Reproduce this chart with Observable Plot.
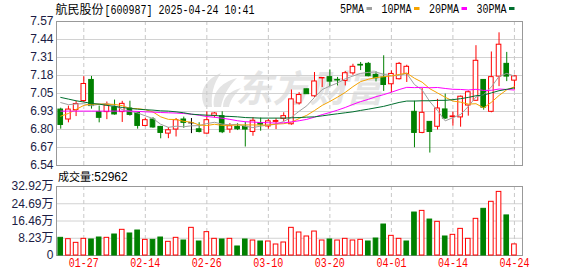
<!DOCTYPE html>
<html><head><meta charset="utf-8">
<script src="https://cdn.jsdelivr.net/npm/d3@7"></script>
<script src="https://cdn.jsdelivr.net/npm/@observablehq/plot@0.6"></script>
<style>
html,body{margin:0;padding:0;background:#fff;}
#wrap{position:relative;width:578px;height:276px;overflow:hidden;background:#fff;}
#wrap svg{position:absolute;left:0;}
</style></head><body><div id="wrap"></div>
<script>
// ---------- data ----------
const stockName = "航民股份";
const stockInfo = "[600987] 2025-04-24 10:41";
const volCaption = "成交量";
const lastVolume = 52962;
const watermark = "东方财富";

const dates = ["01-22","01-23","01-24","01-27","02-05","02-06","02-07","02-10","02-11","02-12","02-13","02-14","02-17","02-18","02-19","02-20","02-21","02-24","02-25","02-26","02-27","02-28","03-03","03-04","03-05","03-06","03-07","03-10","03-11","03-12","03-13","03-14","03-17","03-18","03-19","03-20","03-21","03-24","03-25","03-26","03-27","03-28","03-31","04-01","04-02","04-03","04-07","04-08","04-09","04-10","04-11","04-14","04-15","04-16","04-17","04-18","04-21","04-22","04-23","04-24"];

const open  = [6.94,6.869,6.936,7.001,7.152,6.922,6.922,6.956,6.922,6.948,6.917,6.823,6.869,6.816,6.768,6.797,6.869,6.845,6.799,6.768,6.895,6.893,6.797,6.817,6.817,6.78,6.843,6.819,6.852,6.874,6.835,6.984,7.085,7.035,7.163,7.172,7.152,7.145,7.199,7.26,7.267,7.188,7.169,7.121,7.157,7.195,6.924,6.773,6.852,6.817,6.941,6.886,6.884,6.969,7.003,7.152,6.924,7.176,7.267,7.147];
const high  = [6.95,6.965,6.999,7.176,7.177,6.965,6.994,7.008,6.999,7.0,6.92,6.879,6.882,6.82,6.812,6.876,6.886,6.876,6.846,6.924,6.918,6.924,6.84,6.839,6.85,6.882,6.879,6.87,6.875,6.917,7.08,7.061,7.087,7.205,7.168,7.224,7.17,7.212,7.264,7.277,7.277,7.21,7.325,7.217,7.277,7.257,7.0,7.091,6.853,7.013,7.051,6.922,7.037,7.073,7.397,7.152,7.352,7.489,7.349,7.185];
const low   = [6.80,6.845,6.89,6.99,6.943,6.845,6.868,6.90,6.848,6.893,6.80,6.817,6.806,6.731,6.732,6.744,6.806,6.768,6.773,6.765,6.88,6.768,6.77,6.79,6.672,6.749,6.785,6.80,6.797,6.853,6.828,6.972,7.048,7.026,7.098,7.104,7.109,7.109,7.185,7.219,7.174,7.138,7.07,7.062,7.152,7.134,6.667,6.767,6.629,6.794,6.869,6.821,6.814,6.893,7.0,6.936,6.917,7.104,7.14,7.08];
const close = [6.83,6.94,6.98,7.123,6.965,6.881,6.97,6.905,6.981,6.902,6.823,6.864,6.812,6.773,6.792,6.864,6.845,6.845,6.78,6.864,6.912,6.778,6.821,6.799,6.797,6.86,6.832,6.856,6.858,6.893,7.013,7.044,7.05,7.141,7.166,7.14,7.148,7.2,7.246,7.255,7.179,7.164,7.116,7.195,7.267,7.246,6.773,6.917,6.78,6.948,6.876,6.891,7.032,7.064,7.289,6.954,7.172,7.404,7.176,7.178];
// volume in 万手
const volume = [8.43,7.79,6.04,7.95,7.64,8.58,8.43,10.02,12.25,10.5,11.92,7.47,7.47,8.58,6.52,8.43,7.15,13.2,6.68,11.14,7.95,7.64,7.95,4.3,7.64,7.15,6.68,6.68,5.25,6.2,13.2,10.97,9.07,11.43,7.15,7.64,7.15,7.95,7.15,7.47,6.68,8.1,14.78,9.38,7.95,6.68,20.5,21.29,17.15,16.06,9.07,9.86,12.71,7.95,17.49,22.27,25.62,30.35,19.12,5.3];

const ma5  = [6.990,6.975,6.980,6.982,6.968,6.978,6.984,6.969,6.940,6.928,6.916,6.895,6.876,6.835,6.813,6.821,6.817,6.824,6.825,6.840,6.849,6.836,6.831,6.835,6.821,6.811,6.822,6.829,6.835,6.855,6.885,6.928,6.967,7.027,7.083,7.108,7.130,7.160,7.180,7.199,7.206,7.209,7.192,7.182,7.184,7.198,7.119,7.080,6.997,6.933,6.859,6.882,6.905,6.962,7.030,7.046,7.102,7.177,7.199,7.179];
const ma10 = [6.893,6.912,6.941,6.970,6.979,6.979,6.979,6.977,6.968,6.948,6.947,6.939,6.923,6.888,6.870,6.869,6.856,6.850,6.830,6.826,6.835,6.827,6.827,6.830,6.831,6.830,6.829,6.830,6.836,6.839,6.849,6.876,6.899,6.933,6.970,6.998,7.029,7.063,7.104,7.140,7.157,7.169,7.175,7.181,7.191,7.201,7.164,7.136,7.089,7.059,7.028,7.001,6.993,6.979,6.982,6.952,6.992,7.041,7.081,7.103];
const ma20 = [6.929,6.929,6.929,6.929,6.929,6.929,6.929,6.929,6.929,6.929,6.927,6.924,6.922,6.919,6.917,6.915,6.912,6.907,6.900,6.890,6.885,6.878,6.870,6.860,6.853,6.851,6.847,6.846,6.843,6.845,6.852,6.860,6.870,6.886,6.904,6.919,6.936,6.955,6.977,6.997,7.013,7.032,7.047,7.064,7.083,7.099,7.097,7.099,7.096,7.098,7.091,7.085,7.084,7.080,7.085,7.077,7.078,7.087,7.084,7.080];
const ma30 = [7.027,7.015,7.003,6.994,6.984,6.979,6.970,6.963,6.955,6.948,6.943,6.939,6.936,6.931,6.929,6.924,6.917,6.907,6.903,6.900,6.898,6.893,6.891,6.888,6.883,6.881,6.879,6.879,6.879,6.879,6.881,6.883,6.886,6.888,6.895,6.903,6.910,6.917,6.924,6.934,6.943,6.953,6.963,6.977,6.991,7.001,7.001,7.003,7.003,7.006,7.006,7.011,7.018,7.027,7.039,7.044,7.059,7.075,7.085,7.095];

const maLabels = ["5PMA","10PMA","20PMA","30PMA"];
const priceTicks = ["6.54","6.67","6.80","6.93","7.05","7.18","7.31","7.44","7.57"];
const volTicks = ["0","8.23万","16.46万","24.69万","32.92万"];
const xLabels = ["01-27","02-14","02-26","03-10","03-20","04-01","04-14","04-24"];

// ---------- styling ----------
const RED = "#ff0000", GREEN = "#008000", LABEL = "#1c1c44";
const MA_COLORS = ["#a0a0a0", "#f5a300", "#ff00ff", "#006e2e"];
const SANS = '"Liberation Sans", Arial, "Noto Sans CJK SC", sans-serif';
const MONO = '"Liberation Mono", "DejaVu Sans Mono", monospace';
const CJK = '"Noto Sans CJK SC", sans-serif';
const XDOM = [-0.55, dates.length + 0.05];
const WM = "#e4e4e4";

const rows = dates.map((d, i) => ({i, date: d, o: open[i], h: high[i], l: low[i], c: close[i], v: volume[i],
  vUp: i === 0 ? close[i] >= open[i] : close[i] >= close[i - 1]}));
const candleColor = d => d.c > d.o ? RED : d.c < d.o ? GREEN : "#000";
const maSeries = [ma5, ma10, ma20, ma30].flatMap((arr, k) => arr.map((v, i) => ({i, v, k})));

const pLo = +priceTicks[0], pHi = +priceTicks[priceTicks.length - 1];
const priceTickRows = priceTicks.map((s, k) => ({label: s, v: pLo + k * (pHi - pLo) / (priceTicks.length - 1)}));
const vHi = parseFloat(volTicks[volTicks.length - 1]);
const volTickRows = volTicks.map((s, k) => ({label: s, v: k * vHi / (volTicks.length - 1)}));
const xRows = xLabels.map(s => ({label: s, i: dates.indexOf(s)}));

const wrap = document.getElementById("wrap");

// ---------- watermark logo (background decoration) ----------
const bg = d3.select(wrap).append("svg").attr("width", 578).attr("height", 170).style("top", "0px");
bg.append("path").attr("fill", WM).attr("d",
  "M205,107 C198,93 204,80 221,73 C213,84 211,95 212,107 Z " +
  "M214,107 C212,93 220,83 237,78 C227,88 223,97 221,107 Z " +
  "M223,107 C223,97 230,91 241,88 C233,96 230,101 229,107 Z");

// ---------- price panel ----------
const price = Plot.plot({
  width: 578, height: 170, marginLeft: 56, marginRight: 56, marginTop: 21, marginBottom: 5,
  style: {background: "none", overflow: "visible"},
  x: {type: "linear", domain: XDOM, axis: null},
  y: {domain: [pLo, pHi], axis: null},
  marks: [
    Plot.text([watermark], {frameAnchor: "middle", dx: 20, dy: -3, fontSize: 37, fontWeight: "bold",
      fontStyle: "italic", fill: WM, fontFamily: CJK}),
    Plot.ruleY(priceTickRows.slice(1, -1), {y: "v", stroke: "#d2d2d2"}),
    Plot.ruleX(xRows, {x: "i", stroke: "#c8c8c8", strokeDasharray: "4,3"}),
    Plot.frame({stroke: "#999"}),
    Plot.text(priceTickRows, {y: "v", text: "label", frameAnchor: "left", textAnchor: "end", dx: -3,
      fill: LABEL, fontSize: 12, fontFamily: SANS}),
    Plot.ruleX(rows, {x: "i", y1: "l", y2: "h", stroke: candleColor}),
    Plot.rect(rows.filter(d => d.c !== d.o), {x1: d => d.i - 0.3, x2: d => d.i + 0.3, y1: "o", y2: "c",
      fill: d => d.c > d.o ? "#fff" : GREEN, stroke: candleColor, strokeWidth: 1}),
    Plot.ruleY(rows.filter(d => d.c === d.o), {y: "c", x1: d => d.i - 0.35, x2: d => d.i + 0.35, stroke: "#000"}),
    Plot.line(maSeries, {x: "i", y: "v", z: "k", stroke: d => MA_COLORS[d.k], strokeWidth: 1})
  ]
});
price.style.top = "0px";
wrap.appendChild(price);

// ---------- volume panel ----------
const vol = Plot.plot({
  width: 578, height: 106, marginLeft: 56, marginRight: 56, marginTop: 16, marginBottom: 21,
  style: {background: "none", overflow: "visible"},
  x: {type: "linear", domain: XDOM, axis: null},
  y: {domain: [0, vHi], axis: null},
  marks: [
    Plot.ruleY(volTickRows.slice(1, -1), {y: "v", stroke: "#d2d2d2"}),
    Plot.ruleX(xRows, {x: "i", stroke: "#c8c8c8", strokeDasharray: "4,3"}),
    Plot.frame({stroke: "#999"}),
    Plot.text(volTickRows, {y: "v", text: "label", frameAnchor: "left", textAnchor: "end", dx: -3,
      fill: LABEL, fontSize: 12, fontFamily: SANS}),
    Plot.text(xRows, {x: "i", text: "label", frameAnchor: "bottom", dy: 11, fill: RED, fontSize: 12,
      fontFamily: MONO, className: "xlab"}),
    Plot.rect(rows, {x1: d => d.i - 0.3, x2: d => d.i + 0.3, y1: 0, y2: "v",
      fill: d => d.vUp ? "#fff" : GREEN, stroke: d => d.vUp ? RED : GREEN, strokeWidth: 1})
  ]
});
vol.style.top = "170px";
wrap.appendChild(vol);
d3.select(vol).selectAll(".xlab text").each(function() {
  const t = d3.select(this);
  t.attr("textLength", t.text().length * 6).attr("lengthAdjust", "spacingAndGlyphs");
});

// ---------- header, legend, caption ----------
const ov = d3.select(wrap).append("svg").attr("width", 578).attr("height", 276)
  .style("top", "0px").style("pointer-events", "none");
ov.append("text").attr("x", 55.5).attr("y", 13.5).attr("font-family", CJK).attr("font-size", 12)
  .attr("fill", "#000").text(stockName);
ov.append("text").attr("x", 104.5).attr("y", 13.5).attr("font-family", MONO).attr("font-size", 12)
  .attr("fill", "#000").attr("textLength", stockInfo.length * 6).attr("lengthAdjust", "spacingAndGlyphs")
  .text(stockInfo);
let lx = 340;
maLabels.forEach((lab, k) => {
  const w = lab.length * 6;
  ov.append("text").attr("x", lx).attr("y", 13).attr("font-family", MONO).attr("font-size", 12)
    .attr("fill", "#000").attr("textLength", w).attr("lengthAdjust", "spacingAndGlyphs").text(lab);
  ov.append("rect").attr("x", lx + w + 2.5).attr("y", 7).attr("width", 5.5).attr("height", 3)
    .attr("fill", MA_COLORS[k]);
  lx += w + 2.5 + 5.5 + 9.5;
});
const cap = ov.append("text").attr("x", 58).attr("y", 181).attr("fill", "#000");
cap.append("tspan").attr("font-family", CJK).attr("font-size", 11).text(volCaption);
cap.append("tspan").attr("font-family", SANS).attr("font-size", 12).text(":" + lastVolume);
</script>
</body></html>
